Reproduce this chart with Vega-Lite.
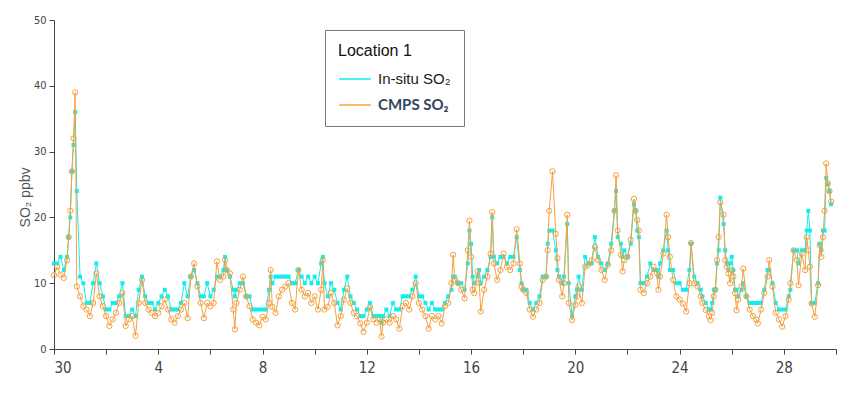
{
  "$schema": "https://vega.github.io/schema/vega-lite/v6.json",
  "width": 782,
  "height": 329,
  "autosize": {"type": "none"},
  "padding": {"left": 54, "top": 20, "right": 20, "bottom": 66},
  "background": "white",
  "config": {"view": {"stroke": null}, "font": "Liberation Sans"},
  "data": {"values": [
    {"day":0,"insitu":13,"cmps":11.2},{"day":0.125,"insitu":13,"cmps":12.5},{"day":0.25,"insitu":14,"cmps":11.3},{"day":0.375,"insitu":12,"cmps":10.8},
    {"day":0.5,"insitu":14,"cmps":13.5},{"day":0.5625,"insitu":17,"cmps":17},{"day":0.625,"insitu":20,"cmps":21},{"day":0.6875,"insitu":27,"cmps":27},
    {"day":0.75,"insitu":31,"cmps":32},{"day":0.8125,"insitu":36,"cmps":39},{"day":0.875,"insitu":24,"cmps":9.5},{"day":1,"insitu":11,"cmps":8},
    {"day":1.125,"insitu":10,"cmps":6.5},{"day":1.25,"insitu":7,"cmps":6},{"day":1.375,"insitu":7,"cmps":5},{"day":1.5,"insitu":10,"cmps":7},
    {"day":1.625,"insitu":13,"cmps":11.5},{"day":1.75,"insitu":10,"cmps":8},{"day":1.875,"insitu":8,"cmps":6.5},{"day":2,"insitu":6,"cmps":5},
    {"day":2.125,"insitu":6,"cmps":3.5},{"day":2.25,"insitu":7,"cmps":4.5},{"day":2.375,"insitu":7,"cmps":5.5},{"day":2.5,"insitu":8,"cmps":7},
    {"day":2.625,"insitu":10,"cmps":8.5},{"day":2.75,"insitu":5,"cmps":3.5},{"day":2.875,"insitu":5,"cmps":4.5},{"day":3,"insitu":6,"cmps":5},
    {"day":3.125,"insitu":5,"cmps":2},{"day":3.25,"insitu":9,"cmps":7},{"day":3.375,"insitu":11,"cmps":10.5},{"day":3.5,"insitu":8,"cmps":7},
    {"day":3.625,"insitu":7,"cmps":6},{"day":3.75,"insitu":7,"cmps":5.5},{"day":3.875,"insitu":6,"cmps":5},{"day":4,"insitu":7,"cmps":5.5},
    {"day":4.125,"insitu":8,"cmps":6.5},{"day":4.25,"insitu":9,"cmps":7.5},{"day":4.375,"insitu":8,"cmps":6},{"day":4.5,"insitu":6,"cmps":4.5},
    {"day":4.625,"insitu":6,"cmps":4},{"day":4.75,"insitu":6,"cmps":5},{"day":4.875,"insitu":7,"cmps":6},{"day":5,"insitu":10,"cmps":7},
    {"day":5.125,"insitu":8,"cmps":4.7},{"day":5.25,"insitu":11,"cmps":11},{"day":5.375,"insitu":12,"cmps":13},{"day":5.5,"insitu":10,"cmps":9.5},
    {"day":5.625,"insitu":8,"cmps":7},{"day":5.75,"insitu":8,"cmps":4.7},{"day":5.875,"insitu":10,"cmps":7},{"day":6,"insitu":8,"cmps":6.5},
    {"day":6.125,"insitu":9,"cmps":7},{"day":6.25,"insitu":11,"cmps":13.3},{"day":6.375,"insitu":11,"cmps":10.5},{"day":6.5,"insitu":12,"cmps":11},
    {"day":6.5625,"insitu":14,"cmps":13.5},{"day":6.625,"insitu":12,"cmps":12},{"day":6.75,"insitu":11,"cmps":11.5},{"day":6.875,"insitu":9,"cmps":6},
    {"day":6.9375,"insitu":8,"cmps":3},{"day":7,"insitu":9,"cmps":7},{"day":7.125,"insitu":10,"cmps":9},{"day":7.25,"insitu":10,"cmps":11},
    {"day":7.375,"insitu":8,"cmps":8},{"day":7.5,"insitu":8,"cmps":6.5},{"day":7.625,"insitu":6,"cmps":4.5},{"day":7.75,"insitu":6,"cmps":4},
    {"day":7.875,"insitu":6,"cmps":3.6},{"day":8,"insitu":6,"cmps":4.9},{"day":8.125,"insitu":6,"cmps":4.5},{"day":8.25,"insitu":9,"cmps":7},
    {"day":8.3125,"insitu":11,"cmps":12},{"day":8.375,"insitu":10,"cmps":6.4},{"day":8.5,"insitu":11,"cmps":5.5},{"day":8.625,"insitu":11,"cmps":8},
    {"day":8.75,"insitu":11,"cmps":9},{"day":8.875,"insitu":11,"cmps":9.5},{"day":9,"insitu":11,"cmps":10},{"day":9.125,"insitu":10,"cmps":7},
    {"day":9.25,"insitu":10,"cmps":6},{"day":9.375,"insitu":12,"cmps":12},{"day":9.5,"insitu":11,"cmps":9},{"day":9.625,"insitu":10,"cmps":8},
    {"day":9.75,"insitu":11,"cmps":8.5},{"day":9.875,"insitu":10,"cmps":7},{"day":10,"insitu":11,"cmps":8},{"day":10.125,"insitu":10,"cmps":6},
    {"day":10.25,"insitu":13,"cmps":9},{"day":10.3125,"insitu":14,"cmps":13.5},{"day":10.375,"insitu":10,"cmps":6},{"day":10.5,"insitu":8,"cmps":6.4},
    {"day":10.625,"insitu":10,"cmps":8.5},{"day":10.75,"insitu":9,"cmps":7},{"day":10.875,"insitu":7,"cmps":3.6},{"day":11,"insitu":6,"cmps":5},
    {"day":11.125,"insitu":9,"cmps":7.5},{"day":11.25,"insitu":11,"cmps":9.2},{"day":11.375,"insitu":8,"cmps":7},{"day":11.5,"insitu":7,"cmps":5.5},
    {"day":11.625,"insitu":6,"cmps":5},{"day":11.75,"insitu":5,"cmps":3.9},{"day":11.875,"insitu":5,"cmps":2.6},{"day":12,"insitu":6,"cmps":4},
    {"day":12.125,"insitu":7,"cmps":6.4},{"day":12.25,"insitu":5,"cmps":4.5},{"day":12.375,"insitu":5,"cmps":4},{"day":12.5,"insitu":5,"cmps":4.5},
    {"day":12.5625,"insitu":4,"cmps":1.9},{"day":12.625,"insitu":5,"cmps":4},{"day":12.75,"insitu":6,"cmps":4.5},{"day":12.875,"insitu":5,"cmps":4},
    {"day":13,"insitu":7,"cmps":5},{"day":13.125,"insitu":6,"cmps":4.5},{"day":13.25,"insitu":6,"cmps":3.1},{"day":13.375,"insitu":8,"cmps":6.5},
    {"day":13.5,"insitu":8,"cmps":7},{"day":13.625,"insitu":8,"cmps":6},{"day":13.75,"insitu":9,"cmps":8},{"day":13.875,"insitu":11,"cmps":10},
    {"day":14,"insitu":8,"cmps":7},{"day":14.125,"insitu":8,"cmps":6},{"day":14.25,"insitu":7,"cmps":5},{"day":14.375,"insitu":6,"cmps":3.1},
    {"day":14.5,"insitu":7,"cmps":5},{"day":14.625,"insitu":6,"cmps":4.5},{"day":14.75,"insitu":6,"cmps":5},{"day":14.875,"insitu":6,"cmps":3.9},
    {"day":15,"insitu":7,"cmps":6.5},{"day":15.125,"insitu":8,"cmps":7},{"day":15.25,"insitu":9,"cmps":10},{"day":15.3125,"insitu":11,"cmps":14.3},
    {"day":15.375,"insitu":11,"cmps":10.5},{"day":15.5,"insitu":10,"cmps":10},{"day":15.625,"insitu":10,"cmps":9},{"day":15.75,"insitu":9,"cmps":7.7},
    {"day":15.875,"insitu":13,"cmps":15},{"day":15.9375,"insitu":18,"cmps":19.5},{"day":16,"insitu":16,"cmps":14},{"day":16.0625,"insitu":11,"cmps":9},
    {"day":16.125,"insitu":10,"cmps":8.5},{"day":16.25,"insitu":11,"cmps":11.8},{"day":16.3125,"insitu":12,"cmps":10},{"day":16.375,"insitu":10,"cmps":5.7},
    {"day":16.5,"insitu":11,"cmps":9},{"day":16.625,"insitu":12,"cmps":11},{"day":16.75,"insitu":14,"cmps":14.5},{"day":16.8125,"insitu":20,"cmps":20.8},
    {"day":16.875,"insitu":14,"cmps":13},{"day":17,"insitu":13,"cmps":10.5},{"day":17.125,"insitu":14,"cmps":12},{"day":17.25,"insitu":14,"cmps":14.5},
    {"day":17.375,"insitu":13,"cmps":12.5},{"day":17.5,"insitu":14,"cmps":12},{"day":17.625,"insitu":14,"cmps":13},{"day":17.75,"insitu":17,"cmps":18.2},
    {"day":17.875,"insitu":12,"cmps":13},{"day":17.9375,"insitu":10,"cmps":9.5},{"day":18,"insitu":9,"cmps":9},{"day":18.125,"insitu":9,"cmps":8.5},
    {"day":18.25,"insitu":7,"cmps":6},{"day":18.375,"insitu":6,"cmps":4.9},{"day":18.5,"insitu":7,"cmps":6},{"day":18.625,"insitu":8,"cmps":7},
    {"day":18.75,"insitu":11,"cmps":10.5},{"day":18.875,"insitu":11,"cmps":11},{"day":18.9375,"insitu":16,"cmps":15},{"day":19,"insitu":18,"cmps":21},
    {"day":19.125,"insitu":18,"cmps":27},{"day":19.25,"insitu":15,"cmps":17.5},{"day":19.3125,"insitu":12,"cmps":13.8},{"day":19.375,"insitu":11,"cmps":10.5},
    {"day":19.5,"insitu":10,"cmps":8},{"day":19.5625,"insitu":11,"cmps":10},{"day":19.6875,"insitu":19,"cmps":20.4},{"day":19.75,"insitu":10,"cmps":7},
    {"day":19.875,"insitu":5,"cmps":4.4},{"day":20,"insitu":8,"cmps":6.7},{"day":20.0625,"insitu":9,"cmps":8},{"day":20.125,"insitu":11,"cmps":9.5},
    {"day":20.25,"insitu":9,"cmps":7},{"day":20.375,"insitu":14,"cmps":12.5},{"day":20.5,"insitu":13,"cmps":12.8},{"day":20.625,"insitu":13,"cmps":13.5},
    {"day":20.75,"insitu":17,"cmps":15.5},{"day":20.875,"insitu":14,"cmps":13.5},{"day":21,"insitu":13,"cmps":12},{"day":21.125,"insitu":12,"cmps":10.5},
    {"day":21.25,"insitu":13,"cmps":12.8},{"day":21.375,"insitu":16,"cmps":15},{"day":21.5,"insitu":21,"cmps":21},{"day":21.5625,"insitu":24,"cmps":26.4},
    {"day":21.625,"insitu":17,"cmps":18},{"day":21.75,"insitu":16,"cmps":14.3},{"day":21.8125,"insitu":14,"cmps":11.8},{"day":21.875,"insitu":15,"cmps":13.5},
    {"day":22,"insitu":14,"cmps":14},{"day":22.125,"insitu":16,"cmps":16.6},{"day":22.25,"insitu":22,"cmps":22.8},{"day":22.3125,"insitu":21,"cmps":21},
    {"day":22.375,"insitu":18,"cmps":19.6},{"day":22.4375,"insitu":17,"cmps":18},{"day":22.5,"insitu":10,"cmps":9},{"day":22.625,"insitu":10,"cmps":8.5},
    {"day":22.75,"insitu":11,"cmps":10},{"day":22.875,"insitu":13,"cmps":11},{"day":23,"insitu":12,"cmps":12.5},{"day":23.125,"insitu":12,"cmps":11.5},
    {"day":23.1875,"insitu":11,"cmps":9},{"day":23.25,"insitu":13,"cmps":11},{"day":23.375,"insitu":15,"cmps":14.5},{"day":23.5,"insitu":18,"cmps":20.4},
    {"day":23.5625,"insitu":15,"cmps":17},{"day":23.625,"insitu":12,"cmps":14},{"day":23.75,"insitu":12,"cmps":10.5},{"day":23.875,"insitu":10,"cmps":8},
    {"day":24,"insitu":10,"cmps":7.5},{"day":24.125,"insitu":9,"cmps":6.9},{"day":24.25,"insitu":9,"cmps":5.7},{"day":24.375,"insitu":12,"cmps":10},
    {"day":24.4375,"insitu":16,"cmps":16.1},{"day":24.5625,"insitu":11,"cmps":10},{"day":24.6875,"insitu":10,"cmps":9.5},{"day":24.8125,"insitu":9,"cmps":8},
    {"day":24.875,"insitu":8,"cmps":7},{"day":25,"insitu":7,"cmps":5.9},{"day":25.125,"insitu":6,"cmps":5},{"day":25.1875,"insitu":6,"cmps":4.4},
    {"day":25.25,"insitu":7,"cmps":5.5},{"day":25.3125,"insitu":9,"cmps":8},{"day":25.375,"insitu":9,"cmps":9},{"day":25.4375,"insitu":13,"cmps":13.5},
    {"day":25.5,"insitu":15,"cmps":17},{"day":25.5625,"insitu":23,"cmps":22.3},{"day":25.6875,"insitu":19,"cmps":20.4},{"day":25.75,"insitu":15,"cmps":13.5},
    {"day":25.8125,"insitu":13,"cmps":12.5},{"day":25.875,"insitu":12,"cmps":11.5},{"day":25.9375,"insitu":13,"cmps":10},{"day":26,"insitu":14,"cmps":12},
    {"day":26.0625,"insitu":12,"cmps":11},{"day":26.125,"insitu":9,"cmps":8.5},{"day":26.1875,"insitu":9,"cmps":5.9},{"day":26.25,"insitu":8,"cmps":7.5},
    {"day":26.375,"insitu":9,"cmps":9.5},{"day":26.4375,"insitu":10,"cmps":12.2},{"day":26.5625,"insitu":8,"cmps":8},{"day":26.6875,"insitu":7,"cmps":6},
    {"day":26.8125,"insitu":7,"cmps":5},{"day":26.9375,"insitu":7,"cmps":4.5},{"day":27,"insitu":7,"cmps":3.9},{"day":27.125,"insitu":7,"cmps":6},
    {"day":27.25,"insitu":9,"cmps":8.5},{"day":27.375,"insitu":12,"cmps":11},{"day":27.4375,"insitu":12,"cmps":13.5},{"day":27.5625,"insitu":10,"cmps":9.5},
    {"day":27.6875,"insitu":7,"cmps":5.5},{"day":27.8125,"insitu":6,"cmps":4.5},{"day":27.9375,"insitu":6,"cmps":3.4},{"day":28.0625,"insitu":6,"cmps":5},
    {"day":28.1875,"insitu":8,"cmps":7.5},{"day":28.25,"insitu":9,"cmps":10},{"day":28.375,"insitu":15,"cmps":15},{"day":28.5,"insitu":15,"cmps":13.5},
    {"day":28.5625,"insitu":13,"cmps":9.7},{"day":28.6875,"insitu":15,"cmps":14.5},{"day":28.8125,"insitu":15,"cmps":12},{"day":28.875,"insitu":18,"cmps":17},
    {"day":28.9375,"insitu":21,"cmps":15},{"day":29,"insitu":18,"cmps":12.5},{"day":29.0625,"insitu":7,"cmps":6.9},{"day":29.1875,"insitu":7,"cmps":4.9},
    {"day":29.3125,"insitu":10,"cmps":9.7},{"day":29.375,"insitu":16,"cmps":15.8},{"day":29.4375,"insitu":15,"cmps":14},{"day":29.5,"insitu":18,"cmps":17},
    {"day":29.5625,"insitu":18,"cmps":21},{"day":29.625,"insitu":26,"cmps":28.2},{"day":29.6875,"insitu":25,"cmps":25.2},{"day":29.75,"insitu":24,"cmps":24},
    {"day":29.8125,"insitu":22,"cmps":22.4}
  ]},
  "encoding": {
    "x": {
      "field": "day", "type": "quantitative",
      "scale": {"domain": [0, 30], "nice": false, "zero": false},
      "axis": {
        "title": null, "grid": false,
        "values": [0,2,4,6,8,10,12,14,16,18,20,22,24,26,28,30],
        "labelExpr": "(datum.value % 4 == 0 && datum.value < 30) ? (datum.value == 0 ? '30' : datum.label) : ''",
        "domainColor": "#444", "tickColor": "#444", "tickSize": 5,
        "labelFont": "DejaVu Sans Condensed, Liberation Sans Narrow, Liberation Sans",
        "labelFontSize": 15, "labelColor": "#444", "labelPadding": 6
      }
    }
  },
  "layer": [
    {
      "mark": {"type": "line", "strokeWidth": 1, "point": {"shape": "square", "size": 16, "filled": true}},
      "encoding": {
        "y": {
          "field": "insitu", "type": "quantitative", "title": "SO₂ ppbv",
          "scale": {"domain": [0, 50], "nice": false},
          "axis": {
            "grid": false,
            "values": [0,5,10,15,20,25,30,35,40,45,50],
            "labelExpr": "datum.value % 10 == 0 ? datum.label : ''",
            "domainColor": "#444", "tickColor": "#444", "tickSize": 5,
            "labelFont": "DejaVu Sans Condensed, Liberation Sans Narrow, Liberation Sans",
            "labelFontSize": 11, "labelColor": "#444", "labelPadding": 3,
            "titleFont": "Liberation Sans", "titleFontSize": 14, "titleFontWeight": "normal", "titleColor": "#555",
            "titleX": -29, "titleY": 177, "titleAngle": -90, "titleAlign": "center", "titleBaseline": "middle"
          }
        },
        "color": {
          "datum": "In-situ SO₂",
          "scale": {"domain": ["In-situ SO₂", "CMPS SO₂"], "range": ["#12EDED", "#F5A040"]},
          "legend": {
            "title": "Location 1", "orient": "none", "legendX": 271, "legendY": 10,
            "symbolType": "stroke", "symbolSize": 1000, "symbolStrokeWidth": 1.5,
            "strokeColor": "#777", "fillColor": "white", "padding": 13,
            "titleFont": "Liberation Sans", "titleFontSize": 16, "titleFontWeight": "normal", "titleColor": "#111", "titlePadding": 3,
            "labelFont": "Liberation Sans", "labelFontSize": 15, "labelColor": "#1a1a1a", "labelOffset": 6,
            "rowPadding": 1,
            "encode": {
              "legend": {"update": {"width": {"value": 196}}},
              "labels": {
                "update": {
                  "fill": {"signal": "datum.label == 'CMPS SO₂' ? '#34445f' : '#1a1a1a'"},
                  "fontWeight": {"signal": "datum.label == 'CMPS SO₂' ? 'bold' : 'normal'"},
                  "font": {"signal": "datum.label == 'CMPS SO₂' ? 'Lato' : 'Liberation Sans'"}
                }
              }
            }
          }
        }
      }
    },
    {
      "mark": {"type": "line", "strokeWidth": 1, "point": {"shape": "circle", "size": 28, "filled": false, "strokeWidth": 1}},
      "encoding": {
        "y": {"field": "cmps", "type": "quantitative", "title": "SO₂ ppbv"},
        "color": {"datum": "CMPS SO₂"}
      }
    }
  ]
}
